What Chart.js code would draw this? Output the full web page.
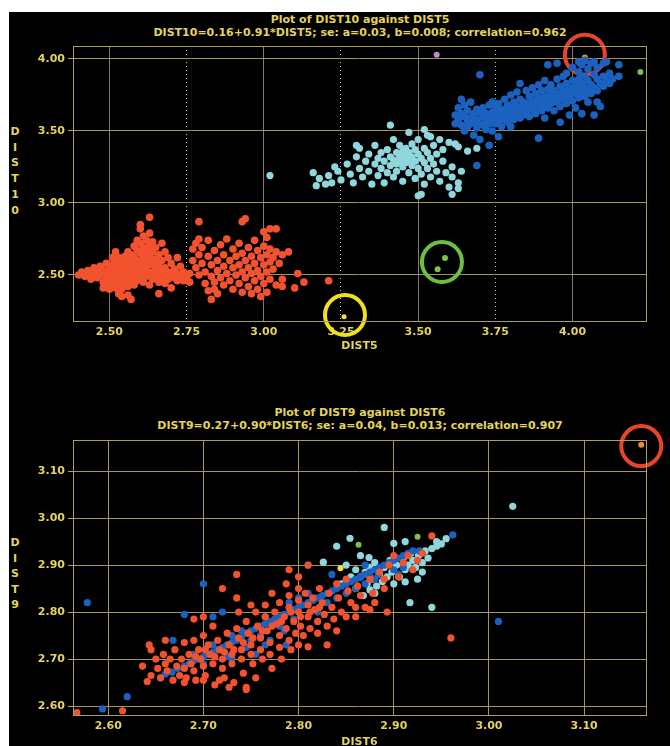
<!DOCTYPE html>
<html>
<head>
<meta charset="utf-8">
<script src="https://cdn.jsdelivr.net/npm/chart.js"></script>
<style>
  html, body { margin: 0; padding: 0; background: #fff; width: 670px; height: 746px; overflow: hidden; }
  #bg { position: absolute; left: 9px; top: 12px; right: 0; bottom: 0; background: #000; }
  canvas { position: absolute; left: 0; }
  .ttl { position: absolute; left: 60px; width: 600px; text-align: center; color: #e4d35c;
         font: bold 11px "DejaVu Sans", sans-serif; line-height: 13px; white-space: nowrap; }
  .ylab { position: absolute; left: 9px; width: 12px; text-align: center; color: #e4d35c;
          font: bold 11px "DejaVu Sans", sans-serif; }
</style>
</head>
<body>
<div id="bg"></div>
<div class="ttl" style="top:13px">Plot of DIST10 against DIST5<br>DIST10=0.16+0.91*DIST5; se: a=0.03, b=0.008; correlation=0.962</div>
<div class="ttl" style="top:406px">Plot of DIST9 against DIST6<br>DIST9=0.27+0.90*DIST6; se: a=0.04, b=0.013; correlation=0.907</div>
<div class="ylab" style="top:124px;line-height:15.7px">D<br>I<br>S<br>T<br>1<br>0</div>
<div class="ylab" style="top:535px;line-height:15.5px">D<br>I<br>S<br>T<br>9</div>
<canvas id="top" width="670" height="356" style="top:0"></canvas>
<canvas id="bot" width="670" height="376" style="top:380px"></canvas>
<script>
// ---- top plot: DIST10 vs DIST5 ----
const topXTicks = [2.50, 2.75, 3.00, 3.25, 3.50, 3.75, 4.00];
const topYTicks = [2.50, 3.00, 3.50, 4.00];

const topRed = [
  [2.40,2.50],[2.41,2.52],[2.42,2.49],[2.43,2.53],[2.44,2.51],[2.44,2.47],[2.45,2.55],[2.45,2.50],[2.46,2.52],[2.46,2.48],
  [2.47,2.56],[2.47,2.50],[2.48,2.53],[2.48,2.45],[2.48,2.41],[2.49,2.58],[2.49,2.51],[2.49,2.47],[2.49,2.42],
  [2.50,2.54],[2.50,2.49],[2.50,2.44],[2.50,2.40],[2.51,2.57],[2.51,2.52],[2.51,2.47],[2.51,2.62],[2.52,2.60],[2.52,2.55],
  [2.52,2.50],[2.52,2.45],[2.52,2.41],[2.52,2.66],[2.53,2.62],[2.53,2.57],[2.53,2.53],[2.53,2.48],[2.53,2.43],[2.53,2.37],
  [2.54,2.59],[2.54,2.55],[2.54,2.51],[2.54,2.46],[2.54,2.40],[2.54,2.35],[2.55,2.63],[2.55,2.58],[2.55,2.53],[2.55,2.49],
  [2.55,2.44],[2.56,2.66],[2.56,2.61],[2.56,2.56],[2.56,2.52],[2.56,2.47],[2.56,2.42],[2.56,2.36],[2.57,2.64],[2.57,2.59],
  [2.57,2.54],[2.57,2.50],[2.57,2.45],[2.57,2.33],[2.58,2.70],[2.58,2.62],[2.58,2.57],[2.58,2.52],[2.58,2.48],[2.58,2.43],
  [2.59,2.74],[2.59,2.67],[2.59,2.60],[2.59,2.55],[2.59,2.50],[2.59,2.46],[2.60,2.82],[2.60,2.85],[2.60,2.72],[2.60,2.65],
  [2.60,2.58],[2.60,2.53],[2.60,2.48],[2.61,2.77],[2.61,2.69],[2.61,2.62],[2.61,2.56],[2.61,2.51],[2.61,2.45],[2.62,2.74],
  [2.62,2.66],[2.62,2.60],[2.62,2.54],[2.62,2.49],[2.63,2.90],[2.63,2.79],[2.63,2.70],[2.63,2.63],[2.63,2.57],[2.63,2.51],
  [2.63,2.43],[2.64,2.73],[2.64,2.66],[2.64,2.59],[2.64,2.52],[2.64,2.47],[2.65,2.69],[2.65,2.61],[2.65,2.55],[2.65,2.49],
  [2.66,2.64],[2.66,2.57],[2.66,2.51],[2.66,2.45],[2.66,2.37],[2.67,2.72],[2.67,2.60],[2.67,2.53],[2.67,2.48],[2.68,2.66],
  [2.68,2.55],[2.68,2.50],[2.68,2.44],[2.69,2.62],[2.69,2.52],[2.69,2.47],[2.70,2.58],[2.70,2.50],[2.70,2.41],[2.71,2.54],
  [2.71,2.48],[2.72,2.62],[2.72,2.51],[2.72,2.46],[2.73,2.56],[2.73,2.49],[2.74,2.52],[2.74,2.46],[2.75,2.48],[2.76,2.51],
  [2.76,2.45],
  [2.77,2.68],[2.77,2.60],[2.78,2.72],[2.78,2.55],[2.79,2.87],[2.79,2.75],[2.79,2.64],[2.79,2.50],[2.80,2.69],[2.80,2.58],
  [2.81,2.52],[2.81,2.44],[2.82,2.74],[2.82,2.63],[2.82,2.39],[2.83,2.57],[2.83,2.49],[2.83,2.33],[2.84,2.67],[2.84,2.45],
  [2.84,2.40],[2.85,2.60],[2.85,2.53],[2.85,2.37],[2.86,2.71],[2.86,2.48],[2.87,2.64],[2.87,2.56],[2.87,2.43],[2.88,2.75],
  [2.88,2.51],[2.89,2.60],[2.89,2.46],[2.90,2.68],[2.90,2.55],[2.90,2.40],[2.91,2.63],[2.91,2.50],[2.92,2.72],[2.92,2.57],
  [2.92,2.44],[2.93,2.87],[2.93,2.65],[2.93,2.52],[2.93,2.38],[2.94,2.89],[2.94,2.60],[2.94,2.48],[2.95,2.69],[2.95,2.55],
  [2.95,2.42],[2.96,2.63],[2.96,2.51],[2.96,2.37],[2.97,2.74],[2.97,2.58],[2.97,2.46],[2.98,2.67],[2.98,2.53],[2.98,2.40],
  [2.99,2.62],[2.99,2.49],[2.99,2.35],[3.00,2.80],[3.00,2.70],[3.00,2.57],[3.00,2.44],[3.01,2.76],[3.01,2.64],[3.01,2.52],
  [3.01,2.38],[3.02,2.82],[3.02,2.68],[3.02,2.59],[3.02,2.47],[3.03,2.62],[3.03,2.54],[3.04,2.82],[3.04,2.66],[3.04,2.43],
  [3.05,2.58],[3.06,2.64],[3.06,2.47],[3.06,2.42],[3.08,2.66],[3.10,2.41],[3.11,2.51],[3.13,2.45],[3.21,2.46]
];

const topCyan = [
  [3.02,3.19],[3.16,3.21],[3.17,3.12],[3.18,3.17],[3.20,3.13],[3.21,3.19],[3.22,3.14],[3.23,3.25],[3.24,3.22],[3.25,3.16],
  [3.27,3.27],[3.28,3.20],[3.29,3.14],[3.30,3.40],[3.30,3.32],[3.31,3.38],[3.31,3.24],[3.32,3.18],[3.33,3.29],[3.34,3.34],
  [3.34,3.22],[3.35,3.13],[3.36,3.27],[3.36,3.40],[3.37,3.31],[3.37,3.19],[3.38,3.24],[3.38,3.35],[3.41,3.54],[3.39,3.29],
  [3.39,3.14],[3.40,3.37],[3.40,3.21],[3.41,3.32],[3.41,3.26],[3.42,3.44],[3.42,3.30],[3.42,3.18],[3.43,3.35],[3.43,3.27],
  [3.43,3.22],[3.44,3.40],[3.44,3.32],[3.44,3.29],[3.45,3.36],[3.45,3.31],[3.45,3.25],[3.45,3.15],[3.46,3.38],[3.46,3.33],
  [3.46,3.28],[3.47,3.49],[3.47,3.35],[3.47,3.30],[3.47,3.21],[3.48,3.41],[3.48,3.32],[3.48,3.26],[3.49,3.37],[3.49,3.29],
  [3.49,3.17],[3.50,3.44],[3.50,3.34],[3.50,3.24],[3.50,3.05],[3.51,3.31],[3.51,3.20],[3.51,3.06],[3.52,3.51],[3.52,3.38],
  [3.52,3.28],[3.52,3.13],[3.53,3.47],[3.53,3.35],[3.53,3.24],[3.54,3.46],[3.54,3.31],[3.54,3.18],[3.55,3.40],[3.55,3.27],
  [3.56,3.22],[3.56,3.34],[3.57,3.44],[3.57,3.15],[3.58,3.29],[3.58,3.37],[3.59,3.21],[3.60,3.42],[3.60,3.11],[3.61,3.25],
  [3.61,3.18],[3.61,3.06],[3.62,3.41],[3.63,3.39],[3.63,3.14],[3.63,3.10],[3.64,3.22],[3.66,3.36],[3.69,3.38]
];

const topBlue = [
  [3.62,3.61],[3.62,3.55],[3.63,3.66],[3.63,3.58],[3.64,3.72],[3.64,3.62],[3.64,3.54],[3.65,3.68],[3.65,3.60],[3.65,3.50],
  [3.66,3.64],[3.66,3.57],[3.66,3.53],[3.67,3.70],[3.67,3.59],[3.67,3.55],[3.68,3.62],[3.68,3.56],[3.68,3.47],[3.69,3.65],
  [3.69,3.58],[3.69,3.52],[3.69,3.26],[3.70,3.89],[3.70,3.63],[3.70,3.55],[3.70,3.44],[3.71,3.66],[3.71,3.60],[3.71,3.54],
  [3.72,3.62],[3.72,3.57],[3.72,3.51],[3.73,3.68],[3.73,3.60],[3.73,3.55],[3.73,3.40],[3.74,3.70],[3.74,3.63],[3.74,3.58],
  [3.74,3.50],[3.75,3.66],[3.75,3.60],[3.75,3.55],[3.76,3.69],[3.76,3.62],[3.76,3.57],[3.76,3.46],[3.77,3.65],[3.77,3.60],
  [3.77,3.53],[3.78,3.72],[3.78,3.64],[3.78,3.58],[3.79,3.68],[3.79,3.62],[3.79,3.56],[3.80,3.75],[3.80,3.66],[3.80,3.60],
  [3.80,3.53],[3.81,3.70],[3.81,3.64],[3.81,3.58],[3.82,3.77],[3.82,3.67],[3.82,3.62],[3.83,3.83],[3.83,3.72],[3.83,3.65],
  [3.83,3.59],[3.84,3.70],[3.84,3.66],[3.84,3.61],[3.85,3.78],[3.85,3.69],[3.85,3.63],[3.86,3.74],[3.86,3.67],[3.86,3.60],
  [3.87,3.80],[3.87,3.71],[3.87,3.65],[3.88,3.76],[3.88,3.69],[3.88,3.62],[3.89,3.82],[3.89,3.73],[3.89,3.67],[3.89,3.45],
  [3.90,3.78],[3.90,3.71],[3.90,3.64],[3.91,3.85],[3.91,3.74],[3.91,3.68],[3.91,3.59],[3.92,3.96],[3.92,3.79],[3.92,3.72],
  [3.92,3.66],[3.93,3.82],[3.93,3.75],[3.93,3.69],[3.94,3.78],[3.94,3.72],[3.94,3.64],[3.95,3.97],[3.95,3.86],[3.95,3.76],
  [3.95,3.70],[3.96,3.81],[3.96,3.74],[3.96,3.67],[3.96,3.56],[3.97,3.88],[3.97,3.78],[3.97,3.72],[3.98,3.90],[3.98,3.83],
  [3.98,3.76],[3.98,3.69],[3.99,3.80],[3.99,3.74],[3.99,3.61],[4.00,3.94],[4.00,3.85],[4.00,3.78],[4.00,3.71],[4.01,3.82],
  [4.01,3.76],[4.01,3.66],[4.02,3.98],[4.02,3.91],[4.02,3.86],[4.02,3.79],[4.02,3.73],[4.03,3.96],[4.03,3.83],[4.03,3.77],
  [4.03,3.62],[4.04,3.99],[4.04,3.88],[4.04,3.80],[4.04,3.74],[4.05,3.93],[4.05,3.85],[4.05,3.78],[4.05,3.70],[4.06,3.97],
  [4.06,3.82],[4.06,3.76],[4.07,3.98],[4.07,3.89],[4.07,3.80],[4.07,3.61],[4.08,3.94],[4.08,3.86],[4.08,3.78],[4.08,3.70],
  [4.09,3.83],[4.09,3.67],[4.10,3.97],[4.10,3.88],[4.10,3.81],[4.11,3.98],[4.11,3.85],[4.12,3.90],[4.12,3.83],[4.13,3.86],
  [4.15,3.96],[4.15,3.88]
];

const topPurple = [[3.56, 4.03]];
const topGreen = [[4.22, 3.91], [3.587, 2.618], [3.563, 2.54]];
const topOrange = [[4.04, 4.01]];
const topYellow = [[3.26, 2.21]];
const topRedRing = [[4.04, 4.03]];
const topGreenRing = [[3.577, 2.59]];
const topYellowRing = [[3.263, 2.222]];

// ---- bottom plot: DIST9 vs DIST6 ----
const botXTicks = [2.60, 2.70, 2.80, 2.90, 3.00, 3.10];
const botYTicks = [2.60, 2.70, 2.80, 2.90, 3.00, 3.10];

const botRed = [
  [2.567,2.586],[2.615,2.59],[2.636,2.685],[2.643,2.73],[2.645,2.72],[2.641,2.652],[2.645,2.665],[2.65,2.70],[2.652,2.68],
  [2.655,2.66],[2.658,2.71],[2.66,2.69],[2.66,2.74],[2.662,2.675],[2.665,2.70],[2.668,2.655],[2.67,2.72],[2.672,2.685],
  [2.675,2.665],[2.677,2.70],[2.68,2.735],[2.68,2.68],[2.68,2.65],[2.682,2.66],[2.685,2.71],[2.687,2.69],[2.69,2.675],
  [2.69,2.74],[2.69,2.785],[2.692,2.655],[2.692,2.705],[2.695,2.72],[2.697,2.70],[2.70,2.685],[2.70,2.75],[2.70,2.79],
  [2.70,2.655],[2.702,2.665],[2.702,2.72],[2.705,2.73],[2.707,2.71],[2.71,2.69],[2.71,2.77],[2.712,2.645],[2.712,2.705],
  [2.715,2.74],[2.717,2.72],[2.717,2.655],[2.72,2.70],[2.72,2.68],[2.72,2.85],[2.722,2.66],[2.722,2.715],[2.725,2.755],
  [2.727,2.73],[2.727,2.64],[2.73,2.71],[2.73,2.69],[2.732,2.65],[2.732,2.72],[2.735,2.88],[2.735,2.83],[2.735,2.765],
  [2.737,2.745],[2.737,2.80],[2.74,2.72],[2.74,2.70],[2.742,2.67],[2.742,2.735],[2.745,2.635],[2.745,2.64],[2.745,2.78],
  [2.747,2.755],[2.75,2.73],[2.75,2.71],[2.75,2.815],[2.752,2.69],[2.752,2.745],[2.755,2.66],[2.755,2.80],[2.757,2.77],
  [2.76,2.745],[2.76,2.72],[2.762,2.70],[2.762,2.76],[2.765,2.815],[2.765,2.79],[2.767,2.76],[2.77,2.735],[2.77,2.71],
  [2.772,2.68],[2.772,2.84],[2.772,2.77],[2.775,2.80],[2.777,2.775],[2.78,2.82],[2.78,2.75],[2.78,2.725],[2.782,2.70],
  [2.782,2.78],[2.785,2.79],[2.787,2.765],[2.787,2.86],[2.79,2.89],[2.79,2.835],[2.79,2.81],[2.79,2.74],[2.792,2.72],
  [2.792,2.80],[2.795,2.78],[2.797,2.755],[2.80,2.85],[2.80,2.825],[2.80,2.80],[2.80,2.73],[2.80,2.875],[2.802,2.77],
  [2.802,2.79],[2.805,2.75],[2.807,2.84],[2.81,2.815],[2.81,2.79],[2.81,2.726],[2.81,2.90],[2.812,2.765],[2.812,2.80],
  [2.815,2.83],[2.817,2.805],[2.82,2.78],[2.82,2.755],[2.822,2.85],[2.822,2.81],[2.825,2.82],[2.827,2.795],[2.83,2.77],
  [2.83,2.73],[2.832,2.84],[2.835,2.81],[2.837,2.785],[2.84,2.86],[2.84,2.76],[2.842,2.83],[2.845,2.80],[2.85,2.79],
  [2.85,2.87],[2.852,2.845],[2.855,2.82],[2.86,2.81],[2.86,2.79],[2.862,2.855],[2.865,2.835],[2.87,2.81],[2.875,2.87],
  [2.875,2.805],[2.878,2.84],[2.88,2.82],[2.885,2.885],[2.89,2.85],[2.89,2.87],[2.893,2.80],[2.895,2.90],[2.90,2.92],
  [2.905,2.875],[2.91,2.905],[2.915,2.92],[2.92,2.89],[2.925,2.91],[2.93,2.925],[2.94,2.962],[2.96,2.745]
];

const botBlue = [
  [2.578,2.82],[2.594,2.594],[2.62,2.62],[2.655,2.66],[2.66,2.668],[2.667,2.672],[2.673,2.68],[2.668,2.74],[2.68,2.795],
  [2.70,2.86],[2.68,2.685],[2.685,2.69],[2.69,2.697],[2.69,2.71],[2.695,2.70],[2.70,2.705],[2.70,2.69],[2.705,2.71],
  [2.71,2.715],[2.71,2.73],[2.71,2.79],[2.715,2.72],[2.72,2.725],[2.72,2.80],[2.725,2.73],[2.725,2.705],[2.73,2.735],
  [2.73,2.75],[2.73,2.70],[2.735,2.74],[2.74,2.745],[2.74,2.76],[2.745,2.755],[2.745,2.725],[2.75,2.76],[2.75,2.74],
  [2.755,2.765],[2.755,2.71],[2.76,2.77],[2.76,2.75],[2.765,2.775],[2.765,2.79],[2.765,2.73],[2.77,2.74],[2.77,2.78],
  [2.775,2.785],[2.78,2.79],[2.78,2.77],[2.785,2.795],[2.785,2.76],[2.787,2.73],[2.79,2.80],[2.79,2.82],[2.795,2.805],
  [2.795,2.785],[2.80,2.81],[2.80,2.83],[2.805,2.815],[2.81,2.90],[2.81,2.82],[2.81,2.84],[2.815,2.825],[2.82,2.83],
  [2.82,2.80],[2.825,2.835],[2.83,2.84],[2.83,2.82],[2.835,2.88],[2.835,2.845],[2.84,2.85],[2.84,2.83],[2.845,2.855],
  [2.85,2.86],[2.85,2.84],[2.855,2.865],[2.86,2.87],[2.86,2.85],[2.865,2.875],[2.87,2.88],[2.87,2.86],[2.87,2.90],
  [2.875,2.885],[2.88,2.89],[2.88,2.87],[2.884,2.88],[2.885,2.895],[2.89,2.90],[2.895,2.905],[2.90,2.91],[2.90,2.89],
  [2.905,2.915],[2.905,2.88],[2.91,2.92],[2.91,2.895],[2.915,2.925],[2.92,2.93],[2.927,2.93],[2.962,2.964],[3.01,2.78]
];

const botCyan = [
  [3.025,3.025],[2.89,2.98],[2.854,2.957],[2.84,2.94],[2.865,2.92],[2.874,2.916],[2.90,2.946],[2.912,2.95],[2.945,2.95],
  [2.955,2.956],[2.917,2.82],[2.94,2.81],[2.912,2.864],[2.875,2.847],[2.85,2.90],[2.86,2.89],[2.865,2.875],[2.87,2.885],
  [2.872,2.86],[2.875,2.895],[2.878,2.87],[2.88,2.905],[2.882,2.855],[2.885,2.88],[2.888,2.865],[2.89,2.895],[2.893,2.875],
  [2.896,2.91],[2.898,2.885],[2.90,2.86],[2.903,2.90],[2.906,2.875],[2.91,2.915],[2.912,2.89],[2.915,2.90],[2.918,2.925],
  [2.92,2.91],[2.923,2.895],[2.926,2.92],[2.93,2.905],[2.933,2.93],[2.936,2.915],[2.94,2.935],[2.945,2.94],[2.95,2.945],
  [2.93,2.885],[2.925,2.87],[2.86,2.85],[2.855,2.875],[2.845,2.86],[2.868,2.835],[2.88,2.84],[2.826,2.906]
];

const botGreen = [[2.925, 2.96], [2.863, 2.943]];
const botYellow = [[2.844, 2.893]];
const botOrange = [[3.16, 3.156]];
const botRedRing = [[3.16, 3.153]];

// ---- drawing ----
const YEL = '#e4d35c';
const FONT = { family: 'DejaVu Sans', size: 11, weight: 'bold' };

const framePlugin = {
  id: 'frame',
  afterDatasetsDraw(chart) {
    const a = chart.chartArea, c = chart.ctx;
    c.save();
    c.strokeStyle = '#ab9e58';
    c.lineWidth = 1;
    c.strokeRect(Math.round(a.left) + 0.5, Math.round(a.top) + 0.5, Math.round(a.right - a.left), Math.round(a.bottom - a.top));
    c.restore();
  }
};

function pts(data, color, r) {
  return { data, backgroundColor: color, borderWidth: 0, pointRadius: r, pointHoverRadius: r };
}
function ring(data, color) {
  return { data, backgroundColor: 'rgba(0,0,0,0)', borderColor: color, borderWidth: 4,
           pointRadius: 20, pointHoverRadius: 20, clip: false };
}

function plot(id, datasets, o) {
  return new Chart(document.getElementById(id), {
    type: 'scatter',
    data: { datasets },
    plugins: [framePlugin],
    options: {
      responsive: false, animation: false, events: [], devicePixelRatio: 1,
      layout: { padding: { left: 0, top: o.top, right: 13, bottom: 0 } },
      plugins: { legend: { display: false }, tooltip: { enabled: false } },
      scales: {
        x: {
          type: 'linear', min: o.xmin, max: o.xmax,
          afterBuildTicks: s => { s.ticks = o.xt.map(v => ({ value: v })); },
          afterFit: s => { s.height = o.xh; },
          ticks: { callback: v => v.toFixed(2), color: YEL, font: FONT, padding: 5, maxRotation: 0, autoSkip: false },
          grid: {
            drawTicks: false,
            color: c => (o.dotted && c.tick && Math.round(c.tick.value * 100) % 50 !== 0) ? '#c8c8c0' : o.vcol,
            lineWidth: 1
          },
          border: { display: false, dash: c => (o.dotted && c.tick && Math.round(c.tick.value * 100) % 50 !== 0) ? [1, 3] : [] },
          title: { display: true, text: o.xtitle, color: YEL, font: FONT, padding: { top: 0, bottom: o.tpad } }
        },
        y: {
          type: 'linear', min: o.ymin, max: o.ymax,
          afterBuildTicks: s => { s.ticks = o.yt.map(v => ({ value: v })); },
          afterFit: s => { s.width = 73; },
          ticks: { callback: v => v.toFixed(2), color: YEL, font: FONT, padding: 3 },
          grid: { drawTicks: true, tickLength: 5, color: '#a2975a', tickColor: '#b0a460', lineWidth: 1 },
          border: { display: false }
        }
      }
    }
  });
}

plot('top', [
  pts(topRed, '#f2532e', 3.8),
  pts(topCyan, '#8fd7dd', 3.6),
  pts(topBlue, '#1b62c0', 3.8),
  pts(topPurple, '#b98bd2', 3),
  pts(topGreen, '#7cc24a', 3),
  pts(topOrange, '#f08a2a', 3),
  pts(topYellow, '#f2e23a', 2.5),
  ring(topRedRing, '#e8442c'),
  ring(topGreenRing, '#6cc040'),
  ring(topYellowRing, '#f2df1e')
], { top: 46, xmin: 2.382, xmax: 4.238, ymin: 2.18, ymax: 4.09, xt: topXTicks, yt: topYTicks,
     xh: 35, tpad: 3, xtitle: 'DIST5', dotted: true, vcol: '#7f7b66' });

plot('bot', [
  pts(botRed, '#f2532e', 3.6),
  pts(botBlue, '#1b62c0', 3.6),
  pts(botCyan, '#8fd7dd', 3.6),
  pts(botGreen, '#7cc24a', 3),
  pts(botYellow, '#f2e23a', 3),
  pts(botOrange, '#f08a2a', 3),
  ring(botRedRing, '#e8442c')
], { top: 60, xmin: 2.563, xmax: 3.165, ymin: 2.581, ymax: 3.166, xt: botXTicks, yt: botYTicks,
     xh: 41, tpad: 7, xtitle: 'DIST6', dotted: false, vcol: '#a2975a' });
</script>
</body>
</html>
